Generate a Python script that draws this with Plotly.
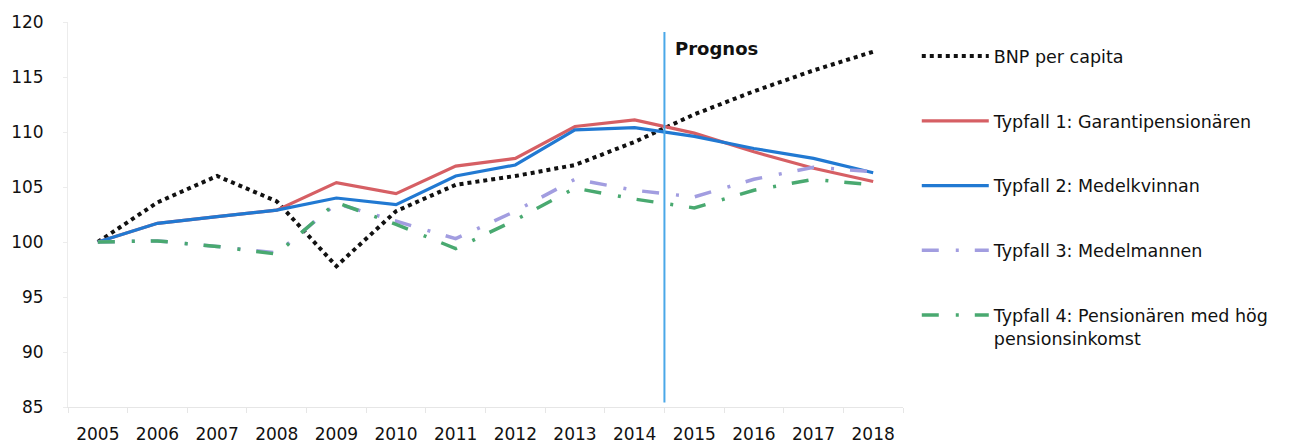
import plotly.graph_objects as go

years = [str(y) for y in range(2005, 2019)]

bnp_per_capita = [100, 103.6, 106.0, 103.7, 97.8, 102.8, 105.2, 106.0, 107.0, 109.1, 111.6, 113.7, 115.6, 117.3]
typfall_1 = [100, 101.7, 102.3, 102.9, 105.4, 104.4, 106.9, 107.6, 110.5, 111.1, 109.9, 108.2, 106.7, 105.5]
typfall_2 = [100, 101.7, 102.3, 102.9, 104.0, 103.4, 106.0, 107.0, 110.2, 110.4, 109.6, 108.5, 107.6, 106.3]
typfall_3 = [100, 100.1, 99.6, 99.0, 103.5, 101.9, 100.3, 102.8, 105.7, 104.7, 104.1, 105.7, 106.8, 106.4]
typfall_4 = [100, 100.1, 99.6, 98.9, 103.6, 101.6, 99.4, 102.0, 104.9, 103.9, 103.1, 104.7, 105.7, 105.2]

series_names = [
    "BNP per capita",
    "Typfall 1: Garantipensionären",
    "Typfall 2: Medelkvinnan",
    "Typfall 3: Medelmannen",
    "Typfall 4: Pensionären med hög<br>pensionsinkomst",
]
y_ticks = [85, 90, 95, 100, 105, 110, 115, 120]
forecast_label = "Prognos"

FONT = "'DejaVu Sans', Verdana, sans-serif"
dashdot = "17px,17px,3px,16px"

styles = [
    dict(color="#111111", width=4, dash="dot"),
    dict(color="#d65f64", width=3.2, dash="solid"),
    dict(color="#2179d2", width=3.2, dash="solid"),
    dict(color="#a29de0", width=3.5, dash=dashdot),
    dict(color="#49a970", width=3.5, dash=dashdot),
]

fig = go.Figure()
all_series = [bnp_per_capita, typfall_1, typfall_2, typfall_3, typfall_4]
for i, (name, vals, st) in enumerate(zip(series_names, all_series, styles)):
    fig.add_trace(go.Scatter(
        x=years, y=vals, name=name, mode="lines",
        line=st, legendgroup=f"g{i}",
    ))

# forecast divider between 2014 and 2015
fig.add_shape(type="line", xref="x", yref="y", x0=9.5, x1=9.5, y0=85.4, y1=119.1,
              line=dict(color="#4aa8e8", width=2))
fig.add_annotation(x=9.5, y=117.6, xref="x", yref="y", text=forecast_label,
                   showarrow=False, xanchor="left", yanchor="middle", xshift=9,
                   font=dict(family=FONT, size=18, color="#111111", weight="bold"))

fig.update_layout(
    width=1312, height=444,
    margin=dict(l=68, r=409, t=22, b=37),
    paper_bgcolor="white", plot_bgcolor="white",
    font=dict(family=FONT, size=17, color="#111111"),
    showlegend=True,
    legend=dict(
        x=1.0165, xanchor="left", y=0.958, yanchor="top",
        traceorder="grouped", tracegroupgap=39, itemwidth=67, valign="top",
        font=dict(family=FONT, size=17.5, color="#111111"),
        bgcolor="rgba(0,0,0,0)",
    ),
    xaxis=dict(
        type="category", range=[-0.5, 13.5], showgrid=False, automargin=False,
        showline=True, linecolor="#e6e6e6", linewidth=1,
        ticks="outside", tickson="boundaries", ticklen=5, tickcolor="#e6e6e6",
        tickfont=dict(family=FONT, size=17, color="#111111"),
        ticklabelstandoff=12,
    ),
    yaxis=dict(
        range=[85, 120], tickvals=y_ticks, showgrid=False, zeroline=False,
        automargin=False,
        showline=True, linecolor="#ececec", linewidth=1,
        ticks="outside", ticklen=4, tickcolor="#ececec",
        tickfont=dict(family=FONT, size=17, color="#111111"),
        ticklabelstandoff=16,
    ),
)

fig.write_html("out.html")
